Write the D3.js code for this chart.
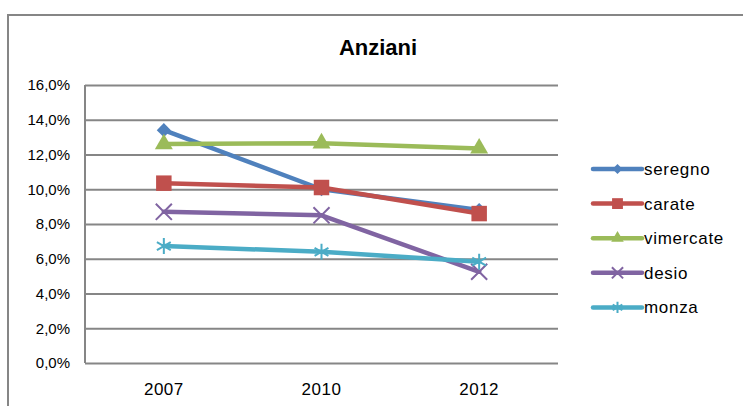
<!DOCTYPE html>
<html>
<head>
<meta charset="utf-8">
<script src="https://cdn.jsdelivr.net/npm/d3@7"></script>
<style>
	body { margin: 0; background: #fff; }
	text { font-family: "Liberation Sans", Arial, sans-serif; fill: #000; }
</style>
</head>
<body>
<div id="chart"></div>
<script>
// data
var years = ["2007", "2010", "2012"];
var seriesNames = ["seregno", "carate", "vimercate", "desio", "monza"];
var seregno = [0.134, 0.100, 0.088];
var carate = [0.1035, 0.101, 0.086];
var vimercate = [0.126, 0.1265, 0.1235];
var desio = [0.087, 0.085, 0.0525];
var monza = [0.0673, 0.064, 0.0583];
var yTicks = [0, 0.02, 0.04, 0.06, 0.08, 0.10, 0.12, 0.14, 0.16];

var colors = ["#4F81BD", "#C0504D", "#9BBB59", "#8064A2", "#4BACC6"];
var seriesValues = [seregno, carate, vimercate, desio, monza];

var width = 743,
	height = 406,
	margin = { top: 85, right: 185, bottom: 43, left: 85 };

var svg = d3.select("#chart").append("svg")
	.attr("width", width)
	.attr("height", height);

// outer chart border (cut off at the right and bottom like the original)
svg.append("rect")
	.attr("x", 8)
	.attr("y", 15)
	.attr("width", 800)
	.attr("height", 500)
	.attr("fill", "none")
	.attr("stroke", "#868686")
	.attr("stroke-width", 2);

var x = d3.scaleBand()
	.domain(years)
	.range([margin.left, width - margin.right]);

var y = d3.scaleLinear()
	.domain([0, 0.16])
	.range([height - margin.bottom, margin.top]);

var fmt = function(d) {
	return d3.format(".1f")(d * 100).replace(".", ",") + "%";
};

// y axis with gridlines
var yAxis = svg.append("g")
	.attr("transform", "translate(" + margin.left + ",0)")
	.call(d3.axisLeft(y)
		.tickValues(yTicks)
		.tickSize(-(width - margin.right - margin.left))
		.tickPadding(15)
		.tickFormat(fmt));
yAxis.select(".domain").remove();
yAxis.selectAll(".tick line")
	.attr("stroke", "#868686")
	.attr("stroke-width", 2);
yAxis.selectAll("text")
	.style("font-size", "15px")
	.attr("fill", "#000");

svg.append("line")
	.attr("x1", margin.left)
	.attr("x2", margin.left)
	.attr("y1", y(0.16))
	.attr("y2", y(0))
	.attr("stroke", "#868686")
	.attr("stroke-width", 2);

// x axis
var xAxis = svg.append("g")
	.attr("transform", "translate(0," + y(0) + ")")
	.call(d3.axisBottom(x).tickSize(0).tickPadding(20));
xAxis.select(".domain").remove();
xAxis.selectAll("text")
	.style("font-size", "17px")
	.style("letter-spacing", "0.5px")
	.attr("fill", "#000");

// title
svg.append("text")
	.attr("x", 378)
	.attr("y", 55)
	.attr("text-anchor", "middle")
	.attr("font-weight", "bold")
	.style("font-size", "22px")
	.text("Anziani");

// markers
function marker(i, k) {
	var g = d3.symbol();
	if (i == 0) return { d: g.type(d3.symbolSquare).size(100 * k * k)(), rot: 45, fill: true };
	if (i == 1) return { d: g.type(d3.symbolSquare).size(240 * k * k)(), rot: 0, fill: true };
	if (i == 2) return { d: g.type(d3.symbolTriangle).size(140 * k * k)(), rot: 0, fill: true };
	if (i == 3) return { d: g.type(d3.symbolTimes || d3.symbolX).size(170 * k * k)(), rot: 0, fill: false };
	return { d: g.type(d3.symbolAsterisk).size(180 * k * k)(), rot: 0, fill: false };
}

var line = d3.line()
	.x(function(d, i) { return x(years[i]) + x.bandwidth() / 2; })
	.y(function(d) { return y(d); });

seriesValues.forEach(function(vals, i) {
	var g = svg.append("g").attr("class", "series");
	g.append("path")
		.attr("d", line(vals))
		.attr("fill", "none")
		.attr("stroke", colors[i])
		.attr("stroke-width", 4.5)
		.attr("stroke-linejoin", "round")
		.attr("stroke-linecap", "round");
	var m = marker(i, 1);
	g.selectAll(".mk")
		.data(vals)
		.enter().append("path")
		.attr("class", "mk")
		.attr("d", m.d)
		.attr("transform", function(d, j) {
			return "translate(" + (x(years[j]) + x.bandwidth() / 2) + "," + y(d) + ")rotate(" + m.rot + ")";
		})
		.attr("fill", m.fill ? colors[i] : "none")
		.attr("stroke", colors[i])
		.attr("stroke-width", m.fill ? 0 : 2);
});

// legend
var legendSpace = 34.6;
var legend = svg.selectAll(".legend")
	.data(seriesNames)
	.enter().append("g")
	.attr("class", "legend")
	.attr("transform", function(d, i) {
		return "translate(593," + (169 + i * legendSpace) + ")";
	});

legend.append("line")
	.attr("x1", 0)
	.attr("x2", 49)
	.attr("stroke", function(d, i) { return colors[i]; })
	.attr("stroke-width", 4.5)
	.attr("stroke-linecap", "round");

legend.append("path")
	.attr("d", function(d, i) { return marker(i, 0.7).d; })
	.attr("transform", function(d, i) { return "translate(24.5,0)rotate(" + marker(i, 0.7).rot + ")"; })
	.attr("fill", function(d, i) { return marker(i, 0.7).fill ? colors[i] : "none"; })
	.attr("stroke", function(d, i) { return colors[i]; })
	.attr("stroke-width", function(d, i) { return marker(i, 0.7).fill ? 0 : 2; });

legend.append("text")
	.attr("x", 51)
	.attr("dy", "0.35em")
	.style("font-size", "17px")
	.style("letter-spacing", "0.7px")
	.text(function(d) { return d; });
</script>
</body>
</html>
